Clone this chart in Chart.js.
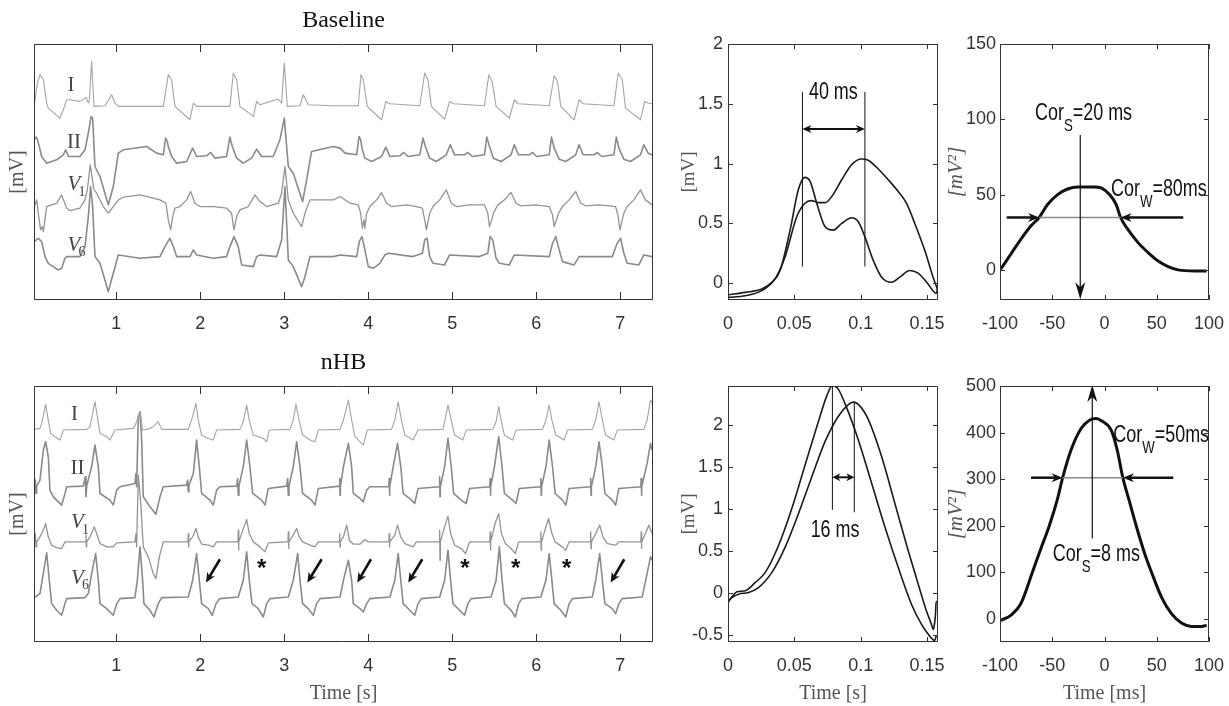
<!DOCTYPE html>
<html>
<head>
<meta charset="utf-8">
<script src="https://cdn.jsdelivr.net/npm/chart.js@4.4.1/dist/chart.umd.min.js"></script>
<style>
html, body { margin: 0; padding: 0; background: #fff; }
#wrap { position: relative; width: 1229px; height: 706px; overflow: hidden; }
#wrap canvas { position: absolute; left: 0; top: 0; }
</style>
</head>
<body>
<div id="wrap">
  <canvas id="ecgBase" width="1229" height="706"></canvas>
  <canvas id="qrsBase" width="1229" height="706"></canvas>
  <canvas id="corBase" width="1229" height="706"></canvas>
  <canvas id="ecgHB" width="1229" height="706"></canvas>
  <canvas id="qrsHB" width="1229" height="706"></canvas>
  <canvas id="corHB" width="1229" height="706"></canvas>
</div>
<script>
/* ECG baseline vs nHB - 12 lead excerpt, QRS overlay, cross-correlation */

// ---- tick values ----
const ecgTicks = [1, 2, 3, 4, 5, 6, 7];
const qrsTicks = [0, 0.05, 0.1, 0.15];
const baseQrsYTicks = [0, 0.5, 1, 1.5, 2];
const hbQrsYTicks = [-0.5, 0, 0.5, 1, 1.5, 2];
const lagTicks = [-100, -50, 0, 50, 100];
const baseCorYTicks = [0, 50, 100, 150];
const hbCorYTicks = [0, 100, 200, 300, 400, 500];

// ---- baseline leads [time s, mV + offset] ----
const baseI = [[0.024,5.85],[0.06,6.50],[0.091,6.75],[0.131,6.60],[0.171,5.90],[0.19,5.75],[0.329,5.45],[0.369,5.70],[0.409,6.00],[0.448,6.00],[0.567,5.95],[0.639,6.07],[0.667,5.90],[0.679,6.00],[0.706,7.15],[0.734,5.80],[0.865,5.82],[0.944,6.15],[0.984,5.90],[1.024,5.80],[1.56,5.80],[1.619,6.75],[1.659,6.60],[1.698,5.80],[1.877,5.40],[1.917,5.90],[1.956,5.80],[2.353,5.80],[2.393,6.80],[2.433,6.60],[2.472,5.80],[2.631,5.50],[2.671,5.95],[2.71,5.85],[2.929,6.02],[2.968,5.90],[3.0,7.10],[3.036,5.80],[3.187,5.82],[3.226,6.15],[3.286,5.85],[3.583,5.82],[3.664,5.82],[3.881,5.82],[3.913,6.75],[3.941,6.60],[3.988,5.80],[4.158,5.40],[4.209,5.95],[4.257,5.88],[4.613,5.82],[4.672,6.80],[4.711,6.60],[4.751,5.80],[4.909,5.42],[4.968,5.95],[5.016,5.88],[5.383,5.82],[5.435,6.75],[5.474,6.55],[5.522,5.80],[5.68,5.45],[5.739,6.00],[5.787,5.88],[6.154,5.82],[6.213,6.72],[6.253,6.55],[6.292,5.80],[6.451,5.40],[6.51,6.00],[6.557,5.88],[6.925,5.82],[6.976,6.80],[7.024,6.60],[7.063,5.75],[7.241,5.40],[7.292,5.95],[7.332,5.90],[7.379,5.88]];
const baseII = [[0.024,4.80],[0.044,4.88],[0.06,4.82],[0.083,4.60],[0.111,4.30],[0.171,4.10],[0.29,4.20],[0.369,4.35],[0.397,4.50],[0.429,4.30],[0.567,4.30],[0.627,4.50],[0.667,5.00],[0.70,5.50],[0.718,5.45],[0.746,4.00],[0.806,3.70],[0.905,2.85],[0.964,3.40],[1.024,4.40],[1.083,4.50],[1.361,4.60],[1.48,4.40],[1.56,4.35],[1.587,4.85],[1.607,4.75],[1.619,4.60],[1.659,4.30],[1.718,4.10],[1.837,4.15],[1.909,4.55],[1.956,4.30],[2.075,4.32],[2.123,4.42],[2.175,4.25],[2.313,4.30],[2.353,4.88],[2.381,4.60],[2.433,4.25],[2.512,4.10],[2.611,4.25],[2.671,4.52],[2.73,4.30],[2.869,4.30],[2.948,4.80],[3.0,5.45],[3.048,4.00],[3.107,3.80],[3.218,2.95],[3.266,3.60],[3.325,4.45],[3.583,4.60],[3.664,4.55],[3.723,4.40],[3.862,4.35],[3.889,4.90],[3.909,4.80],[3.929,4.50],[3.96,4.25],[4.04,4.15],[4.158,4.30],[4.209,4.58],[4.257,4.30],[4.375,4.32],[4.423,4.42],[4.474,4.30],[4.613,4.35],[4.652,4.85],[4.68,4.60],[4.731,4.25],[4.81,4.15],[4.929,4.35],[4.976,4.65],[5.028,4.35],[5.146,4.35],[5.186,4.42],[5.237,4.30],[5.383,4.35],[5.411,4.88],[5.443,4.60],[5.49,4.25],[5.581,4.15],[5.7,4.35],[5.739,4.65],[5.787,4.35],[5.917,4.35],[5.957,4.42],[6.004,4.30],[6.154,4.35],[6.182,4.88],[6.213,4.55],[6.273,4.22],[6.352,4.15],[6.47,4.35],[6.51,4.65],[6.557,4.35],[6.688,4.35],[6.727,4.42],[6.779,4.30],[6.925,4.35],[6.953,4.88],[6.984,4.55],[7.043,4.22],[7.123,4.15],[7.241,4.35],[7.281,4.65],[7.332,4.40],[7.379,4.35]];
const baseV1 = [[0.024,2.80],[0.052,3.00],[0.071,2.60],[0.099,2.10],[0.119,2.20],[0.131,2.05],[0.171,2.80],[0.29,2.90],[0.349,3.15],[0.409,2.75],[0.448,2.68],[0.567,2.75],[0.627,3.00],[0.655,3.30],[0.69,4.05],[0.734,3.30],[0.766,3.20],[0.845,2.80],[0.905,2.60],[0.964,2.80],[1.024,3.00],[1.083,3.08],[1.282,3.15],[1.52,3.00],[1.591,2.90],[1.619,2.40],[1.647,2.10],[1.671,2.50],[1.698,2.75],[1.758,2.80],[1.837,3.00],[1.885,3.25],[1.937,2.90],[1.996,2.80],[2.155,2.80],[2.313,2.75],[2.373,2.60],[2.401,2.10],[2.433,2.50],[2.472,2.70],[2.571,2.80],[2.651,3.15],[2.71,2.95],[2.79,2.80],[2.929,2.90],[2.968,3.20],[3.008,4.00],[3.048,3.00],[3.107,2.60],[3.206,2.20],[3.246,2.60],[3.306,3.00],[3.583,3.00],[3.664,3.10],[3.783,2.90],[3.881,2.85],[3.909,2.60],[3.929,2.15],[3.949,2.40],[3.96,2.15],[3.98,2.60],[4.02,2.80],[4.099,3.00],[4.158,3.22],[4.217,2.90],[4.277,2.80],[4.455,2.85],[4.573,2.80],[4.644,2.75],[4.672,2.40],[4.692,2.10],[4.715,2.40],[4.731,2.60],[4.771,2.80],[4.85,3.00],[4.929,3.30],[4.988,2.90],[5.047,2.80],[5.206,2.85],[5.383,2.85],[5.423,2.60],[5.443,2.20],[5.47,2.40],[5.49,2.60],[5.542,2.85],[5.621,3.00],[5.7,3.22],[5.759,2.90],[5.818,2.82],[5.996,2.85],[6.154,2.80],[6.194,2.55],[6.213,2.20],[6.241,2.40],[6.265,2.60],[6.312,2.80],[6.391,3.00],[6.47,3.25],[6.53,2.90],[6.589,2.82],[6.747,2.85],[6.945,2.80],[6.976,2.50],[6.996,2.10],[7.024,2.40],[7.043,2.60],[7.083,2.80],[7.162,3.00],[7.241,3.30],[7.3,3.00],[7.379,2.85]];
const baseV6 = [[0.024,1.75],[0.071,1.85],[0.111,1.75],[0.151,1.30],[0.19,1.10],[0.306,0.90],[0.349,0.95],[0.389,1.25],[0.409,1.30],[0.567,1.30],[0.627,1.60],[0.667,2.50],[0.694,3.40],[0.718,2.80],[0.746,1.30],[0.806,1.10],[0.905,0.25],[0.964,0.80],[1.024,1.35],[1.282,1.25],[1.52,1.30],[1.579,1.60],[1.639,1.85],[1.679,1.60],[1.718,1.30],[1.877,1.30],[1.917,1.50],[1.956,1.35],[2.155,1.25],[2.313,1.30],[2.353,1.60],[2.401,1.90],[2.452,1.60],[2.492,1.05],[2.631,1.00],[2.671,1.30],[2.71,1.35],[2.909,1.30],[2.968,1.80],[3.008,3.40],[3.048,1.20],[3.107,1.00],[3.206,0.40],[3.246,0.70],[3.306,1.30],[3.583,1.30],[3.664,1.35],[3.862,1.30],[3.893,1.75],[3.925,1.90],[3.96,1.50],[4.0,1.00],[4.059,0.95],[4.138,1.10],[4.198,1.35],[4.237,1.40],[4.534,1.30],[4.644,1.40],[4.672,1.80],[4.7,1.85],[4.731,1.30],[4.771,1.10],[4.909,1.05],[4.968,1.35],[5.324,1.30],[5.423,1.40],[5.451,1.90],[5.482,1.80],[5.522,1.25],[5.561,1.10],[5.68,1.05],[5.739,1.35],[6.154,1.30],[6.194,1.70],[6.233,1.90],[6.273,1.50],[6.312,1.15],[6.451,1.05],[6.51,1.30],[6.905,1.30],[6.964,1.70],[7.004,1.85],[7.043,1.40],[7.083,1.10],[7.221,1.05],[7.281,1.35],[7.379,1.30]];

// ---- nHB leads [time s, mV + offset] ----
const hbI = [[0.024,6.37],[0.091,6.40],[0.111,6.55],[0.159,7.12],[0.19,6.65],[0.218,6.25],[0.27,6.15],[0.329,6.05],[0.369,6.35],[0.647,6.37],[0.687,6.45],[0.746,7.20],[0.774,6.75],[0.806,6.25],[0.885,6.15],[0.925,6.05],[0.984,6.35],[1.202,6.40],[1.242,6.60],[1.262,6.80],[1.274,6.75],[1.286,6.90],[1.313,6.35],[1.361,6.37],[1.44,6.45],[1.5,6.60],[1.54,6.37],[1.857,6.37],[1.909,6.75],[1.948,7.15],[1.976,6.65],[2.016,6.20],[2.095,6.10],[2.155,6.05],[2.194,6.35],[2.472,6.37],[2.512,6.60],[2.552,7.10],[2.583,6.65],[2.631,6.20],[2.75,6.10],[2.79,6.00],[2.821,6.35],[3.067,6.37],[3.107,6.65],[3.139,7.13],[3.175,6.65],[3.218,6.20],[3.306,6.05],[3.365,6.00],[3.405,6.35],[3.664,6.37],[3.704,6.65],[3.763,7.25],[3.802,6.65],[3.842,6.15],[3.941,5.90],[3.988,6.35],[4.277,6.37],[4.316,6.65],[4.356,7.20],[4.395,6.65],[4.435,6.20],[4.534,6.05],[4.593,6.35],[4.889,6.37],[4.909,6.60],[4.949,7.10],[4.988,6.65],[5.028,6.20],[5.126,6.05],[5.166,6.35],[5.482,6.37],[5.522,6.60],[5.553,7.05],[5.581,6.65],[5.621,6.20],[5.719,6.05],[5.759,6.35],[6.075,6.37],[6.115,6.65],[6.154,7.10],[6.186,6.65],[6.233,6.20],[6.332,6.05],[6.372,6.35],[6.668,6.37],[6.708,6.65],[6.747,7.20],[6.787,6.65],[6.826,6.20],[6.925,6.05],[6.964,6.35],[7.281,6.37],[7.32,6.65],[7.36,7.25],[7.379,7.15]];
const hbII = [[0.024,4.67],[0.036,4.85],[0.044,4.45],[0.052,4.67],[0.091,4.85],[0.131,5.75],[0.159,6.00],[0.19,5.55],[0.21,4.55],[0.25,4.35],[0.349,4.10],[0.389,4.45],[0.409,4.65],[0.607,4.67],[0.631,4.95],[0.639,4.35],[0.647,4.67],[0.706,5.25],[0.746,5.90],[0.786,5.25],[0.806,4.45],[0.925,4.25],[0.964,4.10],[1.004,4.55],[1.044,4.65],[1.222,4.75],[1.234,5.05],[1.242,4.65],[1.262,6.75],[1.282,6.90],[1.302,6.05],[1.321,4.35],[1.401,4.05],[1.472,3.83],[1.52,4.35],[1.56,4.65],[1.837,4.70],[1.849,4.85],[1.857,4.50],[1.865,4.70],[1.917,5.05],[1.956,6.05],[1.988,5.25],[2.016,4.45],[2.115,4.25],[2.155,4.10],[2.194,4.55],[2.234,4.65],[2.433,4.67],[2.444,4.90],[2.452,4.40],[2.46,4.67],[2.512,5.25],[2.552,6.05],[2.591,5.25],[2.623,4.45],[2.73,4.25],[2.77,4.10],[2.81,4.60],[3.028,4.67],[3.04,4.90],[3.048,4.40],[3.056,4.67],[3.107,5.25],[3.147,6.00],[3.187,5.25],[3.218,4.45],[3.325,4.25],[3.365,4.10],[3.405,4.60],[3.656,4.67],[3.66,4.90],[3.664,4.40],[3.668,4.67],[3.704,5.25],[3.763,5.95],[3.802,5.25],[3.822,4.45],[3.901,4.30],[3.941,4.20],[3.98,4.55],[4.02,4.65],[4.245,4.65],[4.249,4.90],[4.253,4.40],[4.257,4.65],[4.296,5.25],[4.348,5.95],[4.387,5.25],[4.415,4.45],[4.514,4.25],[4.553,4.15],[4.593,4.60],[4.846,4.65],[4.85,4.95],[4.854,4.35],[4.858,4.65],[4.909,5.25],[4.949,6.10],[4.988,5.25],[5.016,4.45],[5.107,4.25],[5.166,4.15],[5.206,4.60],[5.447,4.65],[5.451,4.90],[5.455,4.40],[5.459,4.65],[5.502,5.25],[5.553,6.15],[5.593,5.25],[5.621,4.45],[5.719,4.25],[5.759,4.15],[5.798,4.60],[6.051,4.65],[6.055,4.90],[6.059,4.40],[6.063,4.65],[6.115,5.25],[6.154,6.05],[6.194,5.25],[6.225,4.45],[6.312,4.25],[6.352,4.10],[6.391,4.60],[6.644,4.65],[6.648,4.90],[6.652,4.40],[6.656,4.65],[6.708,5.25],[6.747,6.00],[6.787,5.25],[6.818,4.45],[6.905,4.25],[6.945,4.10],[6.984,4.60],[7.245,4.65],[7.249,4.90],[7.253,4.40],[7.257,4.65],[7.32,5.35],[7.36,5.95],[7.379,5.75]];
const hbV1 = [[0.024,3.00],[0.036,3.25],[0.044,2.85],[0.052,3.00],[0.091,3.15],[0.139,3.40],[0.159,3.55],[0.19,3.15],[0.23,2.90],[0.29,2.83],[0.349,2.80],[0.389,3.00],[0.607,3.00],[0.635,3.00],[0.639,3.20],[0.643,2.85],[0.647,3.00],[0.687,3.15],[0.738,3.45],[0.766,3.25],[0.806,2.95],[0.885,2.85],[0.964,2.85],[1.004,2.97],[1.222,3.00],[1.234,3.25],[1.242,2.85],[1.262,5.00],[1.29,4.20],[1.321,2.85],[1.381,2.55],[1.44,2.05],[1.472,1.90],[1.512,2.55],[1.56,3.00],[1.837,3.00],[1.853,3.00],[1.857,3.25],[1.861,2.85],[1.865,3.00],[1.909,3.15],[1.948,3.40],[1.976,3.15],[2.016,2.93],[2.095,2.90],[2.155,2.85],[2.194,3.00],[2.433,3.00],[2.448,3.00],[2.452,3.35],[2.456,2.75],[2.46,3.00],[2.52,3.45],[2.552,3.67],[2.583,3.25],[2.631,3.00],[2.71,2.85],[2.77,2.70],[2.81,2.97],[3.028,3.00],[3.044,3.00],[3.048,3.30],[3.052,2.80],[3.056,3.00],[3.107,3.20],[3.147,3.40],[3.179,3.15],[3.218,3.00],[3.306,2.90],[3.365,2.85],[3.405,3.00],[3.656,3.00],[3.66,3.25],[3.664,2.85],[3.668,3.00],[3.704,3.15],[3.743,3.50],[3.775,3.05],[3.822,2.93],[3.901,2.93],[3.96,3.07],[4.0,3.00],[4.245,3.00],[4.249,3.25],[4.253,2.85],[4.257,3.00],[4.316,3.20],[4.348,3.50],[4.387,3.15],[4.435,2.95],[4.534,2.85],[4.573,3.00],[4.846,3.00],[4.85,3.35],[4.854,2.45],[4.858,3.00],[4.909,3.45],[4.949,3.77],[4.98,3.25],[5.028,2.90],[5.107,2.80],[5.158,2.65],[5.206,3.00],[5.447,3.00],[5.451,3.30],[5.455,2.75],[5.459,3.00],[5.51,3.55],[5.553,3.85],[5.585,3.25],[5.632,2.95],[5.7,2.80],[5.751,2.65],[5.791,3.00],[6.051,3.00],[6.055,3.30],[6.059,2.75],[6.063,3.00],[6.115,3.45],[6.146,3.70],[6.186,3.25],[6.225,3.00],[6.312,2.85],[6.352,2.75],[6.391,3.00],[6.644,3.00],[6.648,3.30],[6.652,2.80],[6.656,3.00],[6.708,3.25],[6.755,3.50],[6.794,3.15],[6.846,2.95],[6.945,2.90],[6.984,3.00],[7.245,3.00],[7.249,3.30],[7.253,2.80],[7.257,3.00],[7.3,3.25],[7.34,3.50],[7.379,3.25]];
const hbV6 = [[0.024,1.33],[0.091,1.45],[0.131,2.05],[0.171,2.67],[0.202,1.85],[0.23,1.15],[0.29,0.95],[0.349,0.80],[0.389,1.15],[0.409,1.30],[0.627,1.33],[0.667,1.45],[0.706,2.05],[0.754,2.65],[0.786,1.85],[0.806,1.15],[0.885,1.00],[0.964,0.80],[1.004,1.15],[1.044,1.30],[1.222,1.33],[1.25,1.85],[1.282,2.85],[1.313,1.85],[1.329,1.15],[1.401,0.95],[1.448,0.75],[1.5,1.15],[1.54,1.33],[1.857,1.35],[1.909,1.85],[1.956,2.65],[1.988,1.85],[2.016,1.15],[2.095,1.00],[2.143,0.80],[2.187,1.15],[2.234,1.30],[2.452,1.35],[2.512,1.85],[2.552,2.70],[2.583,1.85],[2.615,1.15],[2.69,1.00],[2.75,0.75],[2.79,1.15],[2.829,1.30],[3.048,1.35],[3.107,1.85],[3.159,2.65],[3.187,1.85],[3.218,1.15],[3.286,1.00],[3.345,0.80],[3.385,1.15],[3.425,1.30],[3.664,1.35],[3.704,1.85],[3.763,2.45],[3.802,1.85],[3.822,1.15],[3.901,1.00],[3.941,0.90],[3.98,1.15],[4.02,1.30],[4.257,1.35],[4.316,1.85],[4.356,2.65],[4.387,1.85],[4.415,1.15],[4.494,0.95],[4.553,0.80],[4.593,1.15],[4.632,1.30],[4.85,1.35],[4.909,1.85],[4.949,2.75],[4.98,1.85],[5.008,1.15],[5.087,0.95],[5.146,0.80],[5.186,1.15],[5.225,1.30],[5.462,1.35],[5.522,1.85],[5.561,2.85],[5.593,1.85],[5.621,1.15],[5.7,0.95],[5.751,0.75],[5.791,1.15],[5.83,1.30],[6.055,1.35],[6.115,1.85],[6.154,2.65],[6.186,1.85],[6.213,1.15],[6.292,0.95],[6.352,0.75],[6.391,1.15],[6.431,1.30],[6.668,1.35],[6.708,1.85],[6.755,2.65],[6.787,1.85],[6.818,1.15],[6.905,1.00],[6.945,0.85],[6.984,1.15],[7.024,1.30],[7.261,1.35],[7.32,2.05],[7.36,2.55],[7.379,2.45]];

// ---- QRS overlays [time s, mV] ----
const baseQrsA = [[0,-0.096],[0.013,-0.076],[0.0255,-0.048],[0.033,0.008],[0.0393,0.107],[0.0468,0.444],[0.053,0.781],[0.058,0.885],[0.0619,0.851],[0.0669,0.669],[0.0732,0.472],[0.0794,0.444],[0.0857,0.5],[0.0932,0.548],[0.0982,0.514],[0.1032,0.388],[0.1095,0.191],[0.1158,0.051],[0.1233,0.008],[0.1295,0.051],[0.137,0.107],[0.1433,0.084],[0.1508,-0.006],[0.157,-0.084],[0.1583,-0.02]];
const baseQrsB = [[0,-0.118],[0.013,-0.104],[0.0255,-0.062],[0.0355,0.037],[0.043,0.219],[0.0518,0.556],[0.058,0.669],[0.063,0.691],[0.068,0.674],[0.0732,0.674],[0.0782,0.725],[0.0857,0.865],[0.0932,0.992],[0.1007,1.039],[0.1057,1.028],[0.1133,0.955],[0.1208,0.865],[0.1283,0.767],[0.1345,0.669],[0.1408,0.5],[0.1483,0.275],[0.1546,0.051],[0.1583,-0.062]];
const hbQrsA = [[0,-0.112],[0.003,-0.044],[0.0068,0.016],[0.013,0.028],[0.0206,0.127],[0.0281,0.247],[0.0381,0.566],[0.0481,1.004],[0.0581,1.523],[0.0682,2.041],[0.0744,2.34],[0.0787,2.468],[0.0832,2.42],[0.0895,2.2],[0.0982,1.822],[0.1083,1.304],[0.1183,0.785],[0.1283,0.307],[0.1383,-0.131],[0.1459,-0.371],[0.1521,-0.51],[0.1559,-0.562],[0.1569,-0.51]];
const hbQrsB = [[0,-0.092],[0.003,-0.052],[0.008,-0.012],[0.0155,0.008],[0.023,0.067],[0.0331,0.247],[0.0431,0.546],[0.0531,0.944],[0.0632,1.383],[0.0732,1.802],[0.0832,2.101],[0.0907,2.24],[0.0945,2.268],[0.0995,2.221],[0.1058,2.061],[0.1158,1.622],[0.1258,1.064],[0.1358,0.506],[0.1434,0.107],[0.1496,-0.212],[0.1534,-0.371],[0.1546,-0.431],[0.1554,-0.391],[0.1564,-0.252],[0.1569,-0.1],[0.1574,-0.1]];

// ---- cross-correlation [lag ms, mV^2] ----
const baseCorr = [[-99.4,0.4],[-89.7,10.4],[-80.1,20.3],[-70.5,29.1],[-62.5,34.8],[-54.5,43.4],[-44.9,50.0],[-35.3,53.7],[-25.6,55.1],[-9.6,55.1],[-3.2,54.4],[4.8,50.0],[11.2,43.4],[15.4,34.8],[22.4,26.9],[32.1,18.1],[41.7,11.5],[51.3,5.9],[60.9,2.2],[70.5,0],[86.5,-0.7],[97.8,-0.7]];
const hbCorr = [[-99.4,-3.6],[-89.7,7.2],[-80.1,32.3],[-68.9,100.4],[-60.9,150.5],[-52.9,199.3],[-44.9,258.1],[-40.1,302.5],[-32.1,362],[-22.4,408.6],[-14.4,426.5],[-8.0,430.1],[-2.6,425],[6.4,405],[12.2,362],[17.6,302.5],[24.0,251],[30.4,199.3],[38.5,139.8],[44.9,100.4],[54.5,46.6],[64.1,10.8],[73.7,-9.3],[83.3,-16.5],[92.9,-16.5],[97.8,-14.3]];

// ---- markings (data units) ----
const leadNames = ['I', 'II', 'V', 'V'];
const leadSubs = ['', '', '1', '6'];
const baseLeadT = [0.461, 0.496, 0.496, 0.496];
const baseLeadY = [6.44, 4.73, 3.45, 1.63];
const hbLeadT = [0.502, 0.538, 0.538, 0.538];
const hbLeadY = [6.83, 5.21, 3.57, 1.9];
const hbArrowFrom = [2.234, 3.445, 4.032, 4.643, 7.048];
const hbArrowTo = [2.068, 3.274, 3.869, 4.476, 6.886];
const hbArrowY = [2.48, 1.78];
const hbStarT = [2.731, 5.151, 5.755, 6.362];
const hbStarY = 2.41;
const baseLagT = [0.0561, 0.1032];
const baseLagY = [0.14, 1.6];
const baseLagArrowY = 1.29;
const baseLagText = [0.0794, 1.595];
const hbLagT = [0.0787, 0.0952];
const hbLagTop = [2.46, 2.27];
const hbLagBottom = [0.99, 0.96];
const hbLagArrowY = 1.376;
const hbLagText = [0.0807, 0.74];
const baseWidthX = [-93.6, -62.5, 15.4, 75.4];
const baseWidthY = 34.8;
const baseShiftX = -23.2;
const baseShiftY = [89.6, -19.5];
const baseCorS = [-66.5, 99.5];
const baseCorW = [6.2, 49];
const hbWidthX = [-70.3, -40.1, 17.6, 65.8];
const hbWidthY = 303;
const hbShiftX = -11.7;
const hbShiftY = [172.7, 502];
const hbCorS = [-49.5, 124];
const hbCorW = [8.4, 380];

const W = 1229, H = 706;
const SANS = '"Liberation Sans", Arial, sans-serif';
const SERIF = '"Liberation Serif", "DejaVu Serif", serif';
const SQUEEZE = 0.78;   // MATLAB's Helvetica labels come out narrow

function toXY(arr) {
    return arr.map(p => ({ x: p[0], y: p[1] }));
}

function trace(arr, color, width, smooth) {
    return {
        data: toXY(arr),
        borderColor: color,
        borderWidth: width,
        borderJoinStyle: 'round',
        pointRadius: 0,
        fill: false,
        tension: smooth ? 0.4 : 0,
        cubicInterpolationMode: smooth ? 'monotone' : 'default'
    };
}

function pt(chart, p) {
    return [chart.scales.x.getPixelForValue(p[0]), chart.scales.y.getPixelForValue(p[1])];
}

function seg(ctx, chart, p0, p1, w, color) {
    const a = pt(chart, p0), b = pt(chart, p1);
    ctx.strokeStyle = color || '#111';
    ctx.lineWidth = w;
    ctx.beginPath();
    ctx.moveTo(a[0], a[1]);
    ctx.lineTo(b[0], b[1]);
    ctx.stroke();
}

function head(ctx, from, to, len, half) {
    const ang = Math.atan2(to[1] - from[1], to[0] - from[0]);
    const c = Math.cos(ang), s = Math.sin(ang);
    ctx.beginPath();
    ctx.moveTo(to[0], to[1]);
    ctx.lineTo(to[0] - len * c - half * s, to[1] - len * s + half * c);
    ctx.lineTo(to[0] - len * 0.7 * c, to[1] - len * 0.7 * s);
    ctx.lineTo(to[0] - len * c + half * s, to[1] - len * s - half * c);
    ctx.closePath();
    ctx.fill();
}

// shaft + filled head at p1 (and p0 if both)
function arrow(ctx, chart, p0, p1, w, len, half, both) {
    const a = pt(chart, p0), b = pt(chart, p1);
    const d = Math.hypot(b[0] - a[0], b[1] - a[1]);
    const ux = (b[0] - a[0]) / d, uy = (b[1] - a[1]) / d;
    const cut = len * 0.6;
    ctx.strokeStyle = '#111';
    ctx.fillStyle = '#111';
    ctx.lineWidth = w;
    ctx.beginPath();
    ctx.moveTo(a[0] + (both ? ux * cut : 0), a[1] + (both ? uy * cut : 0));
    ctx.lineTo(b[0] - ux * cut, b[1] - uy * cut);
    ctx.stroke();
    head(ctx, a, b, len, half);
    if (both) head(ctx, b, a, len, half);
}

function note(ctx, chart, txt, p, size) {
    const [x, y] = pt(chart, p);
    ctx.save();
    ctx.translate(x, y);
    ctx.scale(SQUEEZE, 1);
    ctx.fillStyle = '#111';
    ctx.font = size + 'px ' + SANS;
    ctx.textAlign = 'center';
    ctx.textBaseline = 'middle';
    ctx.fillText(txt, 0, 0);
    ctx.restore();
}

function corText(ctx, chart, p, sub, rest) {
    const [x, y] = pt(chart, p);
    ctx.save();
    ctx.translate(x, y);
    ctx.scale(SQUEEZE, 1);
    ctx.fillStyle = '#111';
    ctx.textAlign = 'left';
    ctx.textBaseline = 'alphabetic';
    ctx.font = '23px ' + SANS;
    ctx.fillText('Cor', 0, 0);
    let w = ctx.measureText('Cor').width;
    ctx.font = '17px ' + SANS;
    ctx.fillText(sub, w, 11);
    w += ctx.measureText(sub).width;
    ctx.font = '23px ' + SANS;
    ctx.fillText(rest, w, 0);
    ctx.restore();
}

function leadLabels(ctx, chart, ts, ys) {
    ctx.fillStyle = '#444';
    ctx.textBaseline = 'middle';
    leadNames.forEach((name, i) => {
        const [x, y] = pt(chart, [ts[i], ys[i]]);
        if (!leadSubs[i]) {
            ctx.font = '21px ' + SERIF;
            ctx.textAlign = 'center';
            ctx.fillText(name, x, y);
            return;
        }
        ctx.font = 'italic 21px ' + SERIF;
        ctx.textAlign = 'left';
        const w = ctx.measureText(name).width;
        const x0 = x - w / 2;
        ctx.fillText(name, x0, y);
        ctx.font = '14px ' + SERIF;
        ctx.fillText(leadSubs[i], x0 + w - 2, y + 7);
    });
}

// box with inward ticks, MATLAB style
function frame(len, withY) {
    return {
        id: 'frame',
        afterDatasetsDraw(chart) {
            const { ctx, chartArea: a, scales: { x, y } } = chart;
            ctx.save();
            ctx.strokeStyle = '#333';
            ctx.lineWidth = 1;
            ctx.beginPath();
            ctx.rect(Math.round(a.left) + 0.5, Math.round(a.top) + 0.5, Math.round(a.width) - 1, Math.round(a.height) - 1);
            x.ticks.forEach(t => {
                const p = Math.round(x.getPixelForValue(t.value)) + 0.5;
                ctx.moveTo(p, a.bottom);
                ctx.lineTo(p, a.bottom - len);
                ctx.moveTo(p, a.top);
                ctx.lineTo(p, a.top + len);
            });
            if (withY) {
                y.ticks.forEach(t => {
                    const p = Math.round(y.getPixelForValue(t.value)) + 0.5;
                    ctx.moveTo(a.left, p);
                    ctx.lineTo(a.left + len, p);
                    ctx.moveTo(a.right, p);
                    ctx.lineTo(a.right - len, p);
                });
            }
            ctx.stroke();
            ctx.restore();
        }
    };
}

function build(id, box, o) {
    return new Chart(document.getElementById(id), {
        type: 'line',
        data: { datasets: o.sets },
        options: {
            responsive: false,
            animation: false,
            events: [],
            layout: {
                autoPadding: false,
                padding: { left: box.L - box.yW, top: box.T - (box.titleH || 0), right: W - box.R, bottom: H - box.B - box.xH }
            },
            plugins: {
                legend: { display: false },
                tooltip: { enabled: false },
                title: o.title ? {
                    display: true, text: o.title, fullSize: false, color: '#111',
                    font: { family: SERIF, size: 24, weight: 'normal' },
                    padding: { top: 6.6, bottom: 8.6 }
                } : { display: false }
            },
            scales: {
                x: {
                    type: 'linear', min: o.xMin, max: o.xMax,
                    grid: { display: false, drawTicks: false }, border: { display: false },
                    ticks: { autoSkip: false, maxRotation: 0, padding: 13, color: '#333', font: { family: SANS, size: 18 }, callback: v => String(v) },
                    afterBuildTicks: s => { s.ticks = o.xTicks.map(v => ({ value: v })); },
                    afterFit: s => { s.height = box.xH; s.paddingLeft = 0; s.paddingRight = 0; },
                    title: o.xTitle ? {
                        display: true, text: o.xTitle, color: '#555',
                        font: { family: SERIF, size: 20 }, padding: { top: 0, bottom: 0 }
                    } : { display: false }
                },
                y: {
                    type: 'linear', min: o.yMin, max: o.yMax,
                    grid: { display: false, drawTicks: false }, border: { display: false },
                    ticks: { display: !!o.yTicks, autoSkip: false, padding: o.yTickPad || 5, color: '#333', font: { family: SANS, size: 18 }, callback: v => String(v) },
                    afterBuildTicks: s => { s.ticks = (o.yTicks || []).map(v => ({ value: v })); },
                    afterFit: s => { s.width = box.yW; s.paddingTop = 0; s.paddingBottom = 0; },
                    title: {
                        display: true, text: o.yTitle, color: '#555',
                        font: { family: SERIF, size: o.yTitleSize || 19, style: o.yTitleStyle || 'normal' },
                        padding: { top: o.yTitlePad || 0, bottom: 0 }
                    }
                }
            }
        },
        plugins: [frame(o.tickLen, !!o.yTicks), { id: 'notes', afterDraw: chart => { chart.ctx.save(); o.notes(chart.ctx, chart); chart.ctx.restore(); } }]
    });
}

function ecgSets(I, II, V1, V6) {
    return [
        trace(I, '#a4a4a4', 1.1, false),
        trace(II, '#8a8a8a', 1.6, false),
        trace(V1, '#949494', 1.3, false),
        trace(V6, '#8a8a8a', 1.6, false)
    ];
}

// ---- top row: baseline ----
build('ecgBase', { L: 34, T: 44, R: 653, B: 300, yW: 34, xH: 40, titleH: 44 }, {
    title: 'Baseline',
    sets: ecgSets(baseI, baseII, baseV1, baseV6),
    xMin: 0.02, xMax: 7.39, xTicks: ecgTicks,
    yMin: 0, yMax: 7.67, yTitle: '[mV]', yTitlePad: 6, yTitleSize: 20,
    tickLen: 8,
    notes: (ctx, chart) => leadLabels(ctx, chart, baseLeadT, baseLeadY)
});

build('qrsBase', { L: 728, T: 44, R: 938, B: 300, yW: 50, xH: 40 }, {
    sets: [trace(baseQrsA, '#1a1a1a', 1.6, true), trace(baseQrsB, '#1a1a1a', 1.6, true)],
    xMin: 0, xMax: 0.1583, xTicks: qrsTicks,
    yMin: -0.14, yMax: 2, yTicks: baseQrsYTicks, yTitle: '[mV]',
    tickLen: 5,
    notes: (ctx, chart) => {
        baseLagT.forEach(t => seg(ctx, chart, [t, baseLagY[0]], [t, baseLagY[1]], 1));
        arrow(ctx, chart, [baseLagT[0], baseLagArrowY], [baseLagT[1], baseLagArrowY], 2, 9, 4, true);
        note(ctx, chart, '40 ms', baseLagText, 23);
    }
});

build('corBase', { L: 1000, T: 44, R: 1209, B: 300, yW: 56, xH: 40 }, {
    sets: [trace(baseCorr, '#111', 3, true)],
    xMin: -100, xMax: 100, xTicks: lagTicks,
    yMin: -20, yMax: 150, yTicks: baseCorYTicks, yTickPad: 4, yTitle: '[mV²]', yTitleStyle: 'italic', yTitleSize: 21,
    tickLen: 5,
    notes: (ctx, chart) => {
        seg(ctx, chart, [baseWidthX[1], baseWidthY], [baseWidthX[2], baseWidthY], 1.5, '#8a8a8a');
        arrow(ctx, chart, [baseWidthX[0], baseWidthY], [baseWidthX[1], baseWidthY], 2.5, 11, 4.5, false);
        arrow(ctx, chart, [baseWidthX[3], baseWidthY], [baseWidthX[2], baseWidthY], 2.5, 11, 4.5, false);
        arrow(ctx, chart, [baseShiftX, baseShiftY[0]], [baseShiftX, baseShiftY[1]], 1.2, 17, 5, false);
        corText(ctx, chart, baseCorS, 'S', '=20 ms');
        corText(ctx, chart, baseCorW, 'W', '=80ms');
    }
});

// ---- bottom row: nHB ----
build('ecgHB', { L: 34, T: 386, R: 653, B: 642, yW: 34, xH: 64, titleH: 44 }, {
    title: 'nHB',
    sets: ecgSets(hbI, hbII, hbV1, hbV6),
    xMin: 0.02, xMax: 7.39, xTicks: ecgTicks, xTitle: 'Time [s]',
    yMin: 0, yMax: 7.67, yTitle: '[mV]', yTitlePad: 6, yTitleSize: 20,
    tickLen: 8,
    notes: (ctx, chart) => {
        leadLabels(ctx, chart, hbLeadT, hbLeadY);
        hbArrowFrom.forEach((t, i) => arrow(ctx, chart, [t, hbArrowY[0]], [hbArrowTo[i], hbArrowY[1]], 2.6, 10, 4.5, false));
        ctx.fillStyle = '#111';
        ctx.font = 'bold 24px ' + SANS;
        ctx.textAlign = 'center';
        ctx.textBaseline = 'alphabetic';
        hbStarT.forEach(t => {
            const [x, y] = pt(chart, [t, hbStarY]);
            ctx.fillText('*', x, y + 14);
        });
    }
});

build('qrsHB', { L: 728, T: 386, R: 938, B: 642, yW: 50, xH: 64 }, {
    sets: [trace(hbQrsA, '#1a1a1a', 1.6, true), trace(hbQrsB, '#1a1a1a', 1.6, true)],
    xMin: 0, xMax: 0.1583, xTicks: qrsTicks, xTitle: 'Time [s]',
    yMin: -0.58, yMax: 2.46, yTicks: hbQrsYTicks, yTitle: '[mV]',
    tickLen: 5,
    notes: (ctx, chart) => {
        hbLagT.forEach((t, i) => seg(ctx, chart, [t, hbLagBottom[i]], [t, hbLagTop[i]], 1));
        arrow(ctx, chart, [hbLagT[0], hbLagArrowY], [hbLagT[1], hbLagArrowY], 2, 8, 4, true);
        note(ctx, chart, '16 ms', hbLagText, 23);
    }
});

build('corHB', { L: 1000, T: 386, R: 1209, B: 642, yW: 56, xH: 64 }, {
    sets: [trace(hbCorr, '#111', 3, true)],
    xMin: -100, xMax: 100, xTicks: lagTicks, xTitle: 'Time [ms]',
    yMin: -50, yMax: 500, yTicks: hbCorYTicks, yTickPad: 4, yTitle: '[mV²]', yTitleStyle: 'italic', yTitleSize: 21,
    tickLen: 5,
    notes: (ctx, chart) => {
        seg(ctx, chart, [hbWidthX[1], hbWidthY], [hbWidthX[2], hbWidthY], 1.5, '#8a8a8a');
        arrow(ctx, chart, [hbWidthX[0], hbWidthY], [hbWidthX[1], hbWidthY], 2.5, 11, 4.5, false);
        arrow(ctx, chart, [hbWidthX[3], hbWidthY], [hbWidthX[2], hbWidthY], 2.5, 11, 4.5, false);
        arrow(ctx, chart, [hbShiftX, hbShiftY[0]], [hbShiftX, hbShiftY[1]], 1.2, 17, 5, false);
        corText(ctx, chart, hbCorW, 'W', '=50ms');
        corText(ctx, chart, hbCorS, 'S', '=8 ms');
    }
});
</script>
</body>
</html>
